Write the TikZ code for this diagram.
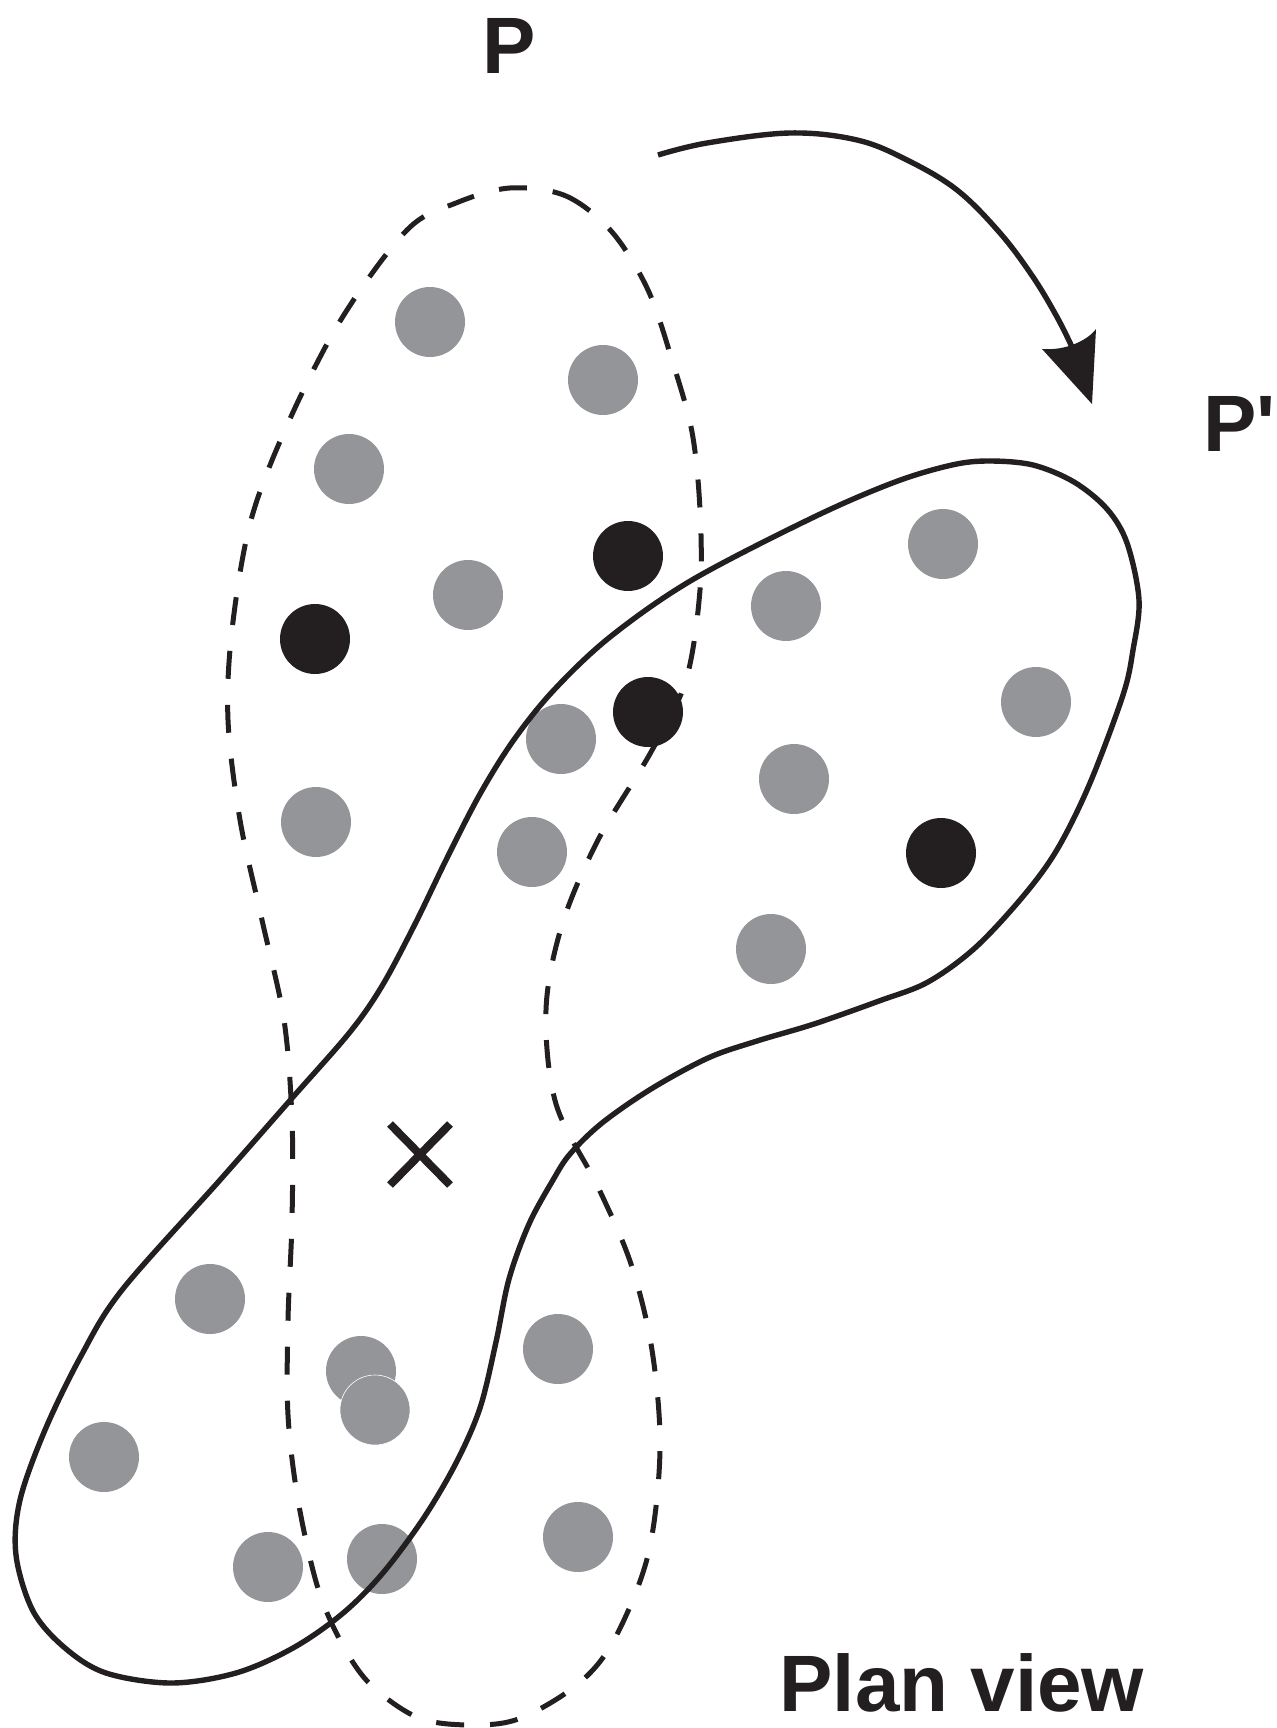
\documentclass[tikz,border=0pt]{standalone}
\usepackage{fontspec}
\newfontfamily\lblfont{Liberation Sans}
\definecolor{inkc}{HTML}{231F20}
\definecolor{dotgray}{HTML}{939598}
\begin{document}
\begin{tikzpicture}[x=0.5pt,y=-0.5pt,
  outline/.style={line width=2.7pt, draw=inkc, line join=round},
  dashline/.style={line width=2.5pt, draw=inkc, dash pattern=on 14pt off 13pt},
  gdot/.style={circle, fill=dotgray, minimum size=35pt, inner sep=0pt},
  bdot/.style={circle, fill=inkc, minimum size=35pt, inner sep=0pt},
  lbl/.style={font=\lblfont\bfseries\fontsize{40pt}{48pt}\selectfont, text=inkc, inner sep=0pt, anchor=base west},
  xmark/.style={line width=4pt, draw=inkc}
]
\useasboundingbox (0,0) rectangle (1276,1728);

% original outline P (dashed)
\draw[dashline] plot[smooth cycle, tension=0.55] coordinates {
  (510,188) (566,196) (612,232) (648,290) (672,360) (692,432) (700,510)
  (700,590) (686,680) (651,752) (598,840) (562,925) (546,1010) (556,1104)
  (598,1187) (631,1264) (652,1350) (660,1450) (648,1555) (614,1640)
  (578,1684) (521,1718) (474,1725) (419,1718) (370,1684) (340,1640)
  (317,1585) (298,1500) (288,1415) (288,1320) (292,1220) (292,1120)
  (284,1020) (262,920) (240,820) (228,720) (232,630) (251,520) (289,421)
  (342,318) (407,230) (456,203)};

% grey points
\foreach \n/\px/\py in {g1/430/322, g2/603/380, g3/349/469, g4/468/595,
  g5/786/606, g6/943/544, g7/1036/702, g8/561/739, g9/794/779,
  g10/316/822, g11/532/852, g12/771/949, g13/210/1299, g14/361/1371,
  g16/558/1349, g17/104/1457, g18/268/1567, g19/382/1559, g20/578/1537}
  \node[gdot] (\n) at (\px,\py) {};
\node[gdot, draw=white, line width=0.3pt] (g15) at (375,1410) {};

% black points
\foreach \n/\px/\py in {b1/628/556, b2/315/639, b3/648/712, b4/941/853}
  \node[bdot] (\n) at (\px,\py) {};

% rotated outline P' (solid)
\draw[outline] plot[smooth cycle, tension=0.55] coordinates {
  (553,691) (610,637) (692,580) (814,517) (895,482) (952,465) (989,461)
  (1033,465) (1074,482) (1107,509) (1127,543) (1139,600) (1133,650)
  (1123,695) (1090,783) (1058,848) (1025,894) (976,947) (928,982)
  (879,1001) (814,1024) (757,1041) (708,1058) (651,1089) (602,1123)
  (570,1154) (553,1180) (529,1224) (509,1279) (496,1342) (480,1408)
  (456,1463) (423,1519) (382,1574) (342,1614) (293,1648) (236,1673)
  (171,1683) (106,1673) (65,1648) (33,1611) (16,1555) (20,1500)
  (45,1430) (81,1356) (122,1290) (220,1180)
  (293,1097) (350,1032) (382,986) (415,924) (448,856) (480,794)
  (513,741)};

% rotation pole
\coordinate (pole) at (420,1154.5);
\draw[xmark] ([shift={(-30,-30.5)}]pole) -- ([shift={(30,30.5)}]pole)
             ([shift={(30,-30.5)}]pole) -- ([shift={(-30,30.5)}]pole);

% rotation arrow
\coordinate (arrstart) at (658,155);
\coordinate (arrend) at (1072,347);
\draw[outline] plot[smooth, tension=0.6] coordinates {
  (arrstart) (707,143) (790,133) (857,140) (907,160) (957,190) (1000,233)
  (1033,277) (1057,317) (arrend)};
\fill[inkc] (1042,349) -- (1092,404) -- (1096,329)
  .. controls (1088,340) and (1066,351) .. (1042,349) -- cycle;

% labels
\node[lbl] (labP) at (482,74) {P};
\node[lbl] (labPp) at (1203,451) {P'};
\node[lbl] (labPlan) at (779,1711) {Plan view};
\end{tikzpicture}
\end{document}
